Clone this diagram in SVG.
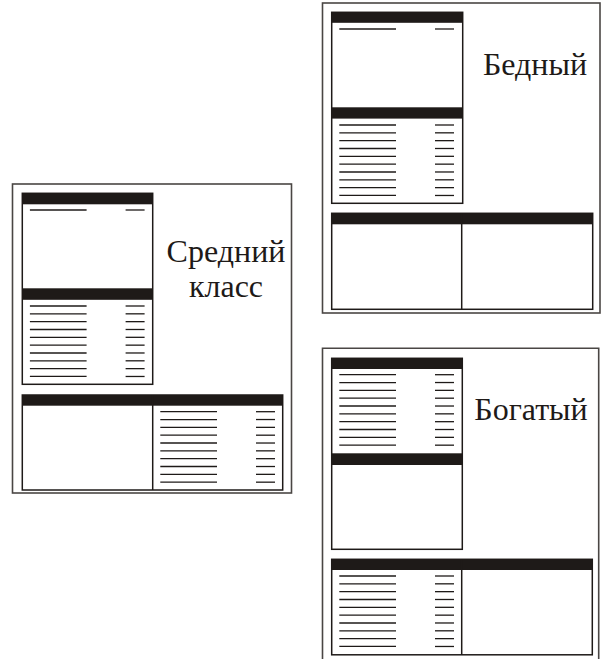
<svg xmlns="http://www.w3.org/2000/svg" xmlns:xlink="http://www.w3.org/1999/xlink" width="606" height="659" viewBox="0 0 606 659">
<style>
.outer{fill:none;stroke:#4a4644;stroke-width:1.6}
.tbl{fill:#fff;stroke:#1e1a18;stroke-width:1.5}
.bar{fill:#1e1a18}
.div{stroke:#1e1a18;stroke-width:1.5}
.ln{stroke:#1e1a18;stroke-width:1.3}
</style>
<defs>
<g id="row">
<line class="ln" x1="7.6" y1="0" x2="64.3" y2="0"/>
<line class="ln" x1="103.3" y1="0" x2="122.3" y2="0"/>
</g>
<g id="rows10">
<use xlink:href="#row" y="0"/>
<use xlink:href="#row" y="7.83"/>
<use xlink:href="#row" y="15.66"/>
<use xlink:href="#row" y="23.49"/>
<use xlink:href="#row" y="31.32"/>
<use xlink:href="#row" y="39.15"/>
<use xlink:href="#row" y="46.98"/>
<use xlink:href="#row" y="54.81"/>
<use xlink:href="#row" y="62.64"/>
<use xlink:href="#row" y="70.47"/>
</g>
</defs>
<rect width="606" height="659" fill="#fff"/>

<g id="poor">
<rect class="outer" x="322.5" y="3" width="277.5" height="310"/>
<g id="poor-top">
<rect class="tbl" x="331.7" y="12.3" width="131" height="191"/>
<rect class="bar" x="331.7" y="12.3" width="131" height="10.5"/>
<use xlink:href="#row" x="331.7" y="29"/>
<rect class="bar" x="331.7" y="107.3" width="131" height="11.3"/>
<use xlink:href="#rows10" x="331.7" y="125"/>
</g>
<g id="poor-bottom">
<rect class="tbl" x="331.7" y="213.3" width="261" height="96"/>
<rect class="bar" x="331.7" y="213.3" width="261" height="11"/>
<line class="div" x1="461.7" y1="213.3" x2="461.7" y2="309.3"/>
</g>
<text x="535" y="75" style="font-family:'Liberation Serif',serif;font-size:32px;fill:#1e1a18;text-anchor:middle">Бедный</text>
</g>

<g id="middle">
<rect class="outer" x="12.5" y="184" width="279" height="309"/>
<g id="middle-top">
<rect class="tbl" x="22.3" y="193.3" width="130.4" height="191"/>
<rect class="bar" x="22.3" y="193.3" width="130.4" height="11"/>
<use xlink:href="#row" x="22.3" y="210"/>
<rect class="bar" x="22.3" y="288.3" width="130.4" height="11.5"/>
<use xlink:href="#rows10" x="22.3" y="306"/>
</g>
<g id="middle-bottom">
<rect class="tbl" x="22.3" y="395" width="260.4" height="95"/>
<rect class="bar" x="22.3" y="395" width="260.4" height="10.7"/>
<line class="div" x1="152.7" y1="395" x2="152.7" y2="490"/>
<use xlink:href="#rows10" x="152.7" y="411.7"/>
</g>
<text x="226" y="261.7" style="font-family:'Liberation Serif',serif;font-size:32px;fill:#1e1a18;text-anchor:middle">Средний</text>
<text x="226" y="296.7" style="font-family:'Liberation Serif',serif;font-size:32px;fill:#1e1a18;text-anchor:middle">класс</text>
</g>

<g id="rich">
<path class="outer" d="M322.5,659 V348.3 H598.7 V659"/>
<g id="rich-top">
<rect class="tbl" x="331.7" y="358.3" width="130.6" height="191"/>
<rect class="bar" x="331.7" y="358.3" width="130.6" height="10.7"/>
<use xlink:href="#rows10" x="331.7" y="374.7"/>
<rect class="bar" x="331.7" y="453.3" width="130.6" height="11.7"/>
</g>
<g id="rich-bottom">
<rect class="tbl" x="331.7" y="559.3" width="260.6" height="95.5"/>
<rect class="bar" x="331.7" y="559.3" width="260.6" height="10.7"/>
<line class="div" x1="461.7" y1="559.3" x2="461.7" y2="654.8"/>
<use xlink:href="#rows10" x="331.7" y="576"/>
</g>
<text x="531" y="420" style="font-family:'Liberation Serif',serif;font-size:32px;fill:#1e1a18;text-anchor:middle">Богатый</text>
</g>

<g id="connectors"/>
</svg>
